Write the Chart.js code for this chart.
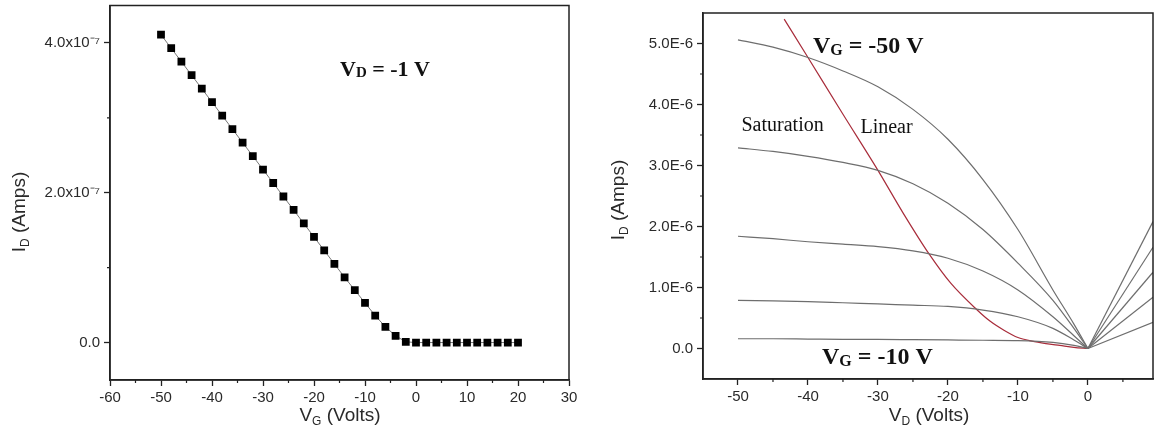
<!DOCTYPE html>
<html>
<head>
<meta charset="utf-8">
<title>Transfer and output characteristics</title>
<script src="https://cdn.jsdelivr.net/npm/chart.js@4.4.1/dist/chart.umd.min.js"></script>
<style>
    html, body { margin: 0; padding: 0; background: #fff; }
    #wrap { position: relative; width: 1155px; height: 442px; overflow: hidden; }
    #transfer { position: absolute; left: 0; top: 0; }
    #output { position: absolute; left: 580px; top: 0; }
</style>
</head>
<body>
<div id="wrap">
    <canvas id="transfer" width="580" height="442"></canvas>
    <canvas id="output" width="575" height="442"></canvas>
</div>
<script>
// Transfer curve at V_D = -1 V, drain current in units of 1e-7 A
const vgSweep = [-50, -48, -46, -44, -42, -40, -38, -36, -34, -32, -30, -28, -26, -24, -22, -20, -18,
    -16, -14, -12, -10, -8, -6, -4, -2, 0, 2, 4, 6, 8, 10, 12, 14, 16, 18, 20];
const idTransfer = [4.11, 3.93, 3.75, 3.57, 3.39, 3.21, 3.03, 2.85, 2.67, 2.49, 2.31, 2.13, 1.95, 1.77,
    1.59, 1.41, 1.23, 1.05, 0.87, 0.70, 0.53, 0.36, 0.21, 0.09, 0.01, 0, 0, 0, 0, 0, 0, 0, 0, 0, 0, 0];
const vgTicks = [-60, -50, -40, -30, -20, -10, 0, 10, 20, 30];
const vgMinor = [-55, -45, -35, -25, -15, -5, 5, 15, 25];
const idTransferTicks = [0, 2, 4];
const idTransferMinor = [1, 3];

// Output curves, drain current in units of 1e-6 A
const vdSweep = [-50, -45, -40, -35, -30, -25, -20, -15, -10, -5, -2, 0];
const idVg50 = [5.06, 4.94, 4.77, 4.55, 4.29, 3.92, 3.43, 2.77, 1.95, 0.96, 0.40, 0];
const idVg40 = [3.29, 3.23, 3.15, 3.05, 2.92, 2.70, 2.38, 1.95, 1.40, 0.79, 0.33, 0];
const idVg30 = [1.84, 1.80, 1.75, 1.71, 1.67, 1.60, 1.48, 1.27, 0.96, 0.52, 0.21, 0];
const idVg20 = [0.79, 0.78, 0.77, 0.75, 0.73, 0.71, 0.69, 0.63, 0.52, 0.33, 0.14, 0];
const idVg10 = [0.16, 0.16, 0.155, 0.15, 0.15, 0.145, 0.14, 0.135, 0.13, 0.10, 0.05, 0];

// positive drain bias branch, one pair per gate voltage (-50 ... -10 V)
const vdReverse = [0, 9.3];
const idReverse = [[0, 2.08], [0, 1.66], [0, 1.25], [0, 0.84], [0, 0.43]];

// linear / saturation boundary
const vdBoundary = [-43.4, -40, -35, -30, -26.4, -22.7, -19.6, -15.9, -14, -12, -10, -8, -6, -4, -2, 0];
const idBoundary = [5.40, 4.77, 3.84, 2.92, 2.22, 1.55, 1.07, 0.64, 0.45, 0.30, 0.18, 0.12, 0.08, 0.05, 0.02, 0];

const vdTicks = [-50, -40, -30, -20, -10, 0];
const vdMinor = [-45, -35, -25, -15, -5, 5];
const idOutputTicks = [0, 1, 2, 3, 4, 5];
const idOutputMinor = [0.5, 1.5, 2.5, 3.5, 4.5];

const SANS = 'Liberation Sans, Arial, sans-serif';
const SERIF = 'Liberation Serif, Times New Roman, serif';
const INK = '#222';

Chart.defaults.font.family = SANS;
Chart.defaults.animation = false;

function toPoints(xs, ys) {
    return xs.map((x, i) => ({ x: x, y: ys[i] }));
}

// draw a row of text pieces (used for subscripts), left-aligned or centred at x
function drawRuns(ctx, runs, x, y, align) {
    let w = 0;
    runs.forEach(r => { ctx.font = r.font; w += ctx.measureText(r.text).width; });
    let cx = align === 'center' ? x - w / 2 : x;
    runs.forEach(r => {
        ctx.font = r.font;
        ctx.fillText(r.text, cx, y + (r.dy || 0));
        cx += ctx.measureText(r.text).width;
    });
}

function subLabel(main, sub, rest, size, subSize, dy, weight, family) {
    const w = weight ? weight + ' ' : '';
    return [
        { text: main, font: `${w}${size}px ${family}` },
        { text: sub, font: `${w}${subSize}px ${family}`, dy: dy },
        { text: rest, font: `${w}${size}px ${family}` }
    ];
}

// frame, minor ticks, axis titles and text notes
const figurePlugin = {
    id: 'figure',
    afterDraw(chart, args, opts) {
        const ctx = chart.ctx;
        const area = chart.chartArea;
        const xs = chart.scales.x;
        const ys = chart.scales.y;
        ctx.save();

        ctx.strokeStyle = INK;
        ctx.lineWidth = 1.5;
        ctx.strokeRect(area.left, area.top, area.right - area.left, area.bottom - area.top);

        ctx.lineWidth = 1.2;
        ctx.beginPath();
        opts.minorX.forEach(v => {
            const px = xs.getPixelForValue(v);
            ctx.moveTo(px, area.bottom);
            ctx.lineTo(px, area.bottom + 3);
        });
        opts.minorY.forEach(v => {
            const py = ys.getPixelForValue(v);
            ctx.moveTo(area.left - 3, py);
            ctx.lineTo(area.left, py);
        });
        ctx.stroke();

        ctx.fillStyle = '#2a2a2a';
        ctx.textBaseline = 'alphabetic';
        ctx.textAlign = 'left';
        drawRuns(ctx, opts.xTitle, opts.xTitleAt[0], opts.xTitleAt[1], 'center');

        ctx.save();
        ctx.translate(opts.yTitleAt[0], opts.yTitleAt[1]);
        ctx.rotate(-Math.PI / 2);
        drawRuns(ctx, opts.yTitle, 0, 7, 'center');
        ctx.restore();

        ctx.fillStyle = '#111';
        opts.notes.forEach(n => {
            drawRuns(ctx, n.runs, xs.getPixelForValue(n.x), ys.getPixelForValue(n.y), 'left');
        });
        ctx.restore();
    }
};

function axis(min, max, tickValues, format, fitSize, horizontal) {
    return {
        type: 'linear',
        min: min,
        max: max,
        afterBuildTicks: s => { s.ticks = tickValues.map(v => ({ value: v })); },
        afterFit: s => {
            if (horizontal) {
                s.height = fitSize;
                s.paddingLeft = 0;
                s.paddingRight = 0;
            } else {
                s.width = fitSize;
                s.paddingTop = 0;
                s.paddingBottom = 0;
            }
        },
        grid: { drawOnChartArea: false, drawTicks: true, tickLength: 6, tickWidth: 1.3, tickColor: INK },
        border: { display: true, color: INK, width: 1.5 },
        ticks: {
            font: { size: 15 },
            color: '#2a2a2a',
            padding: horizontal ? 3 : 4,
            maxRotation: 0,
            autoSkip: false,
            callback: format
        }
    };
}

// left: transfer curve
new Chart(document.getElementById('transfer'), {
    type: 'line',
    data: {
        datasets: [{
            data: toPoints(vgSweep, idTransfer),
            borderColor: '#777',
            borderWidth: 1,
            pointStyle: 'rect',
            pointRadius: 5.5,
            pointBorderWidth: 0,
            pointBackgroundColor: '#000'
        }]
    },
    options: {
        responsive: false,
        devicePixelRatio: 1,
        layout: { padding: { top: 5, right: 11, left: 0, bottom: 0 } },
        scales: {
            x: axis(-60, 30, vgTicks, v => String(v), 62, true),
            y: axis(-0.5, 4.5, idTransferTicks, v => v === 0 ? '0.0' : v.toFixed(1) + 'x10\u207B\u2077', 110, false)
        },
        plugins: {
            legend: { display: false },
            tooltip: { enabled: false },
            figure: {
                minorX: vgMinor,
                minorY: idTransferMinor,
                xTitle: subLabel('V', 'G', ' (Volts)', 19, 12, 4, '', SANS),
                xTitleAt: [340, 421],
                yTitle: subLabel('I', 'D', ' (Amps)', 19, 12, 4, '', SANS),
                yTitleAt: [18, 212],
                notes: [
                    { x: -14.9, y: 3.56, runs: subLabel('V', 'D', ' = -1 V', 22, 15, 1.5, 'bold', SERIF) }
                ]
            }
        }
    },
    plugins: [figurePlugin]
});

// right: output curves
const gateCurves = [idVg50, idVg40, idVg30, idVg20, idVg10];
const outputSets = [];
gateCurves.forEach(ids => {
    outputSets.push({
        data: toPoints(vdSweep, ids),
        borderColor: '#6e6e6e',
        borderWidth: 1.2,
        pointRadius: 0,
        cubicInterpolationMode: 'monotone'
    });
});
idReverse.forEach(ids => {
    outputSets.push({
        data: toPoints(vdReverse, ids),
        borderColor: '#6e6e6e',
        borderWidth: 1.2,
        pointRadius: 0
    });
});
outputSets.push({
    data: toPoints(vdBoundary, idBoundary),
    borderColor: '#a82c3a',
    borderWidth: 1.2,
    pointRadius: 0,
    cubicInterpolationMode: 'monotone'
});

new Chart(document.getElementById('output'), {
    type: 'line',
    data: { datasets: outputSets },
    options: {
        responsive: false,
        devicePixelRatio: 1,
        layout: { padding: { top: 13, right: 2, left: 0, bottom: 0 } },
        scales: {
            x: axis(-55, 9.3, vdTicks, v => String(v), 63, true),
            y: axis(-0.5, 5.5, idOutputTicks, v => v === 0 ? '0.0' : v.toFixed(1) + 'E-6', 123, false)
        },
        plugins: {
            legend: { display: false },
            tooltip: { enabled: false },
            figure: {
                minorX: vdMinor,
                minorY: idOutputMinor,
                xTitle: subLabel('V', 'D', ' (Volts)', 19, 12, 4, '', SANS),
                xTitleAt: [349, 421],
                yTitle: subLabel('I', 'D', ' (Amps)', 19, 12, 4, '', SANS),
                yTitleAt: [37, 200],
                notes: [
                    { x: -39.3, y: 4.84, runs: subLabel('V', 'G', ' = -50 V', 24, 16, 1.5, 'bold', SERIF) },
                    { x: -38.0, y: -0.26, runs: subLabel('V', 'G', ' = -10 V', 24, 16, 1.5, 'bold', SERIF) },
                    { x: -49.5, y: 3.56, runs: [{ text: 'Saturation', font: `20px ${SERIF}` }] },
                    { x: -32.5, y: 3.53, runs: [{ text: 'Linear', font: `20px ${SERIF}` }] }
                ]
            }
        }
    },
    plugins: [figurePlugin]
});
</script>
</body>
</html>
